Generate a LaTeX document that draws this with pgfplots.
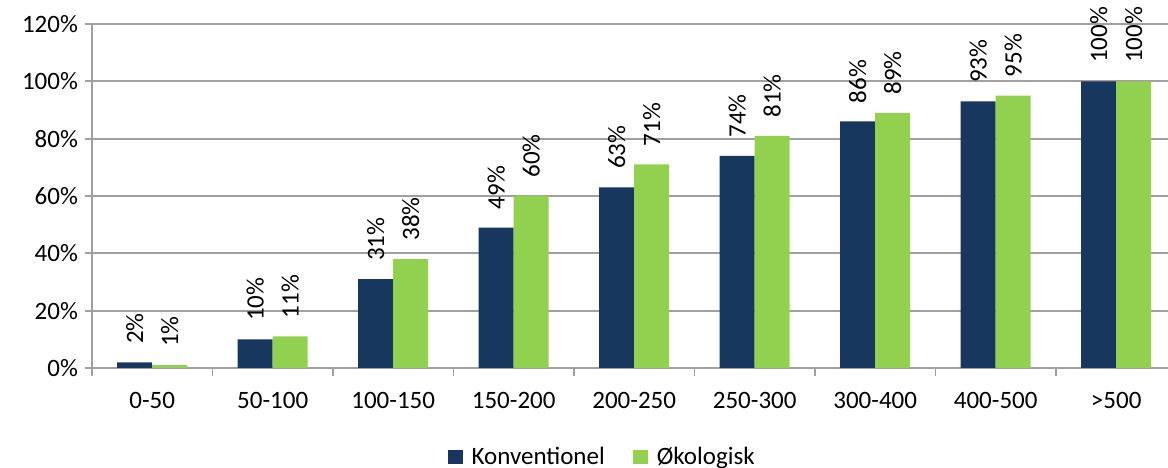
\documentclass[border=0pt]{standalone}
\usepackage{fontspec}
\setmainfont{Carlito}
\usepackage{pgfplots}
\pgfplotsset{compat=1.18}
\definecolor{konv}{HTML}{17375E}
\definecolor{oko}{HTML}{92D050}
\definecolor{gridc}{HTML}{A0A0A0}
\begin{document}
\begin{tikzpicture}
\begin{axis}[
  scale only axis, width=538pt, height=172pt,
  font=\fontsize{12.5}{14}\selectfont,
  /pgf/number format/assume math mode=true,
  ybar=0pt, bar width=17.5pt,
  xmin=-0.5, xmax=8.43, ymin=0, ymax=120,
  axis lines*=left, axis line style={draw=gridc, line width=0.9pt},
  xtick={0,...,8}, xticklabels={0-50,50-100,100-150,150-200,200-250,250-300,300-400,400-500,>500},
  major x tick style={draw=none},
  minor xtick={-0.5,0.5,...,7.5}, minor tick length=4pt,
  minor x tick style={draw=gridc, line width=0.9pt},
  xticklabel style={yshift=-5pt},
  ytick={0,20,...,120}, yticklabel={\pgfmathprintnumber{\tick}\%},
  tick align=outside, major tick length=3.5pt,
  major y tick style={draw=gridc, line width=0.9pt},
  ymajorgrids, grid style={draw=gridc, line width=0.9pt},
  nodes near coords={\pgfmathprintnumber{\pgfplotspointmeta}\%},
  every node near coord/.append style={rotate=90, anchor=west, inner xsep=9pt, inner ysep=0pt, font=\fontsize{12.5}{14}\selectfont},
  legend columns=2,
  legend style={at={(0.475,-0.259)}, anchor=center, draw=none, fill=none,
    /tikz/every even column/.append style={column sep=12pt}},
  legend image code/.code={\fill[#1] (0pt,-3.7pt) rectangle (7.5pt,3.7pt); \path (10pt,0pt);},
]
\addplot[fill=konv, draw=none] coordinates {(0,2) (1,10) (2,31) (3,49) (4,63) (5,74) (6,86) (7,93) (8,100)};
\addlegendentry{Konventionel}
\addplot[fill=oko, draw=none] coordinates {(0,1) (1,11) (2,38) (3,60) (4,71) (5,81) (6,89) (7,95) (8,100)};
\addlegendentry{Økologisk}
\end{axis}
\pgfresetboundingbox
\path[use as bounding box] ([shift={(-46pt,-50pt)}]current axis.south west) rectangle ([shift={(0pt,12pt)}]current axis.north east);
\end{tikzpicture}
\end{document}
